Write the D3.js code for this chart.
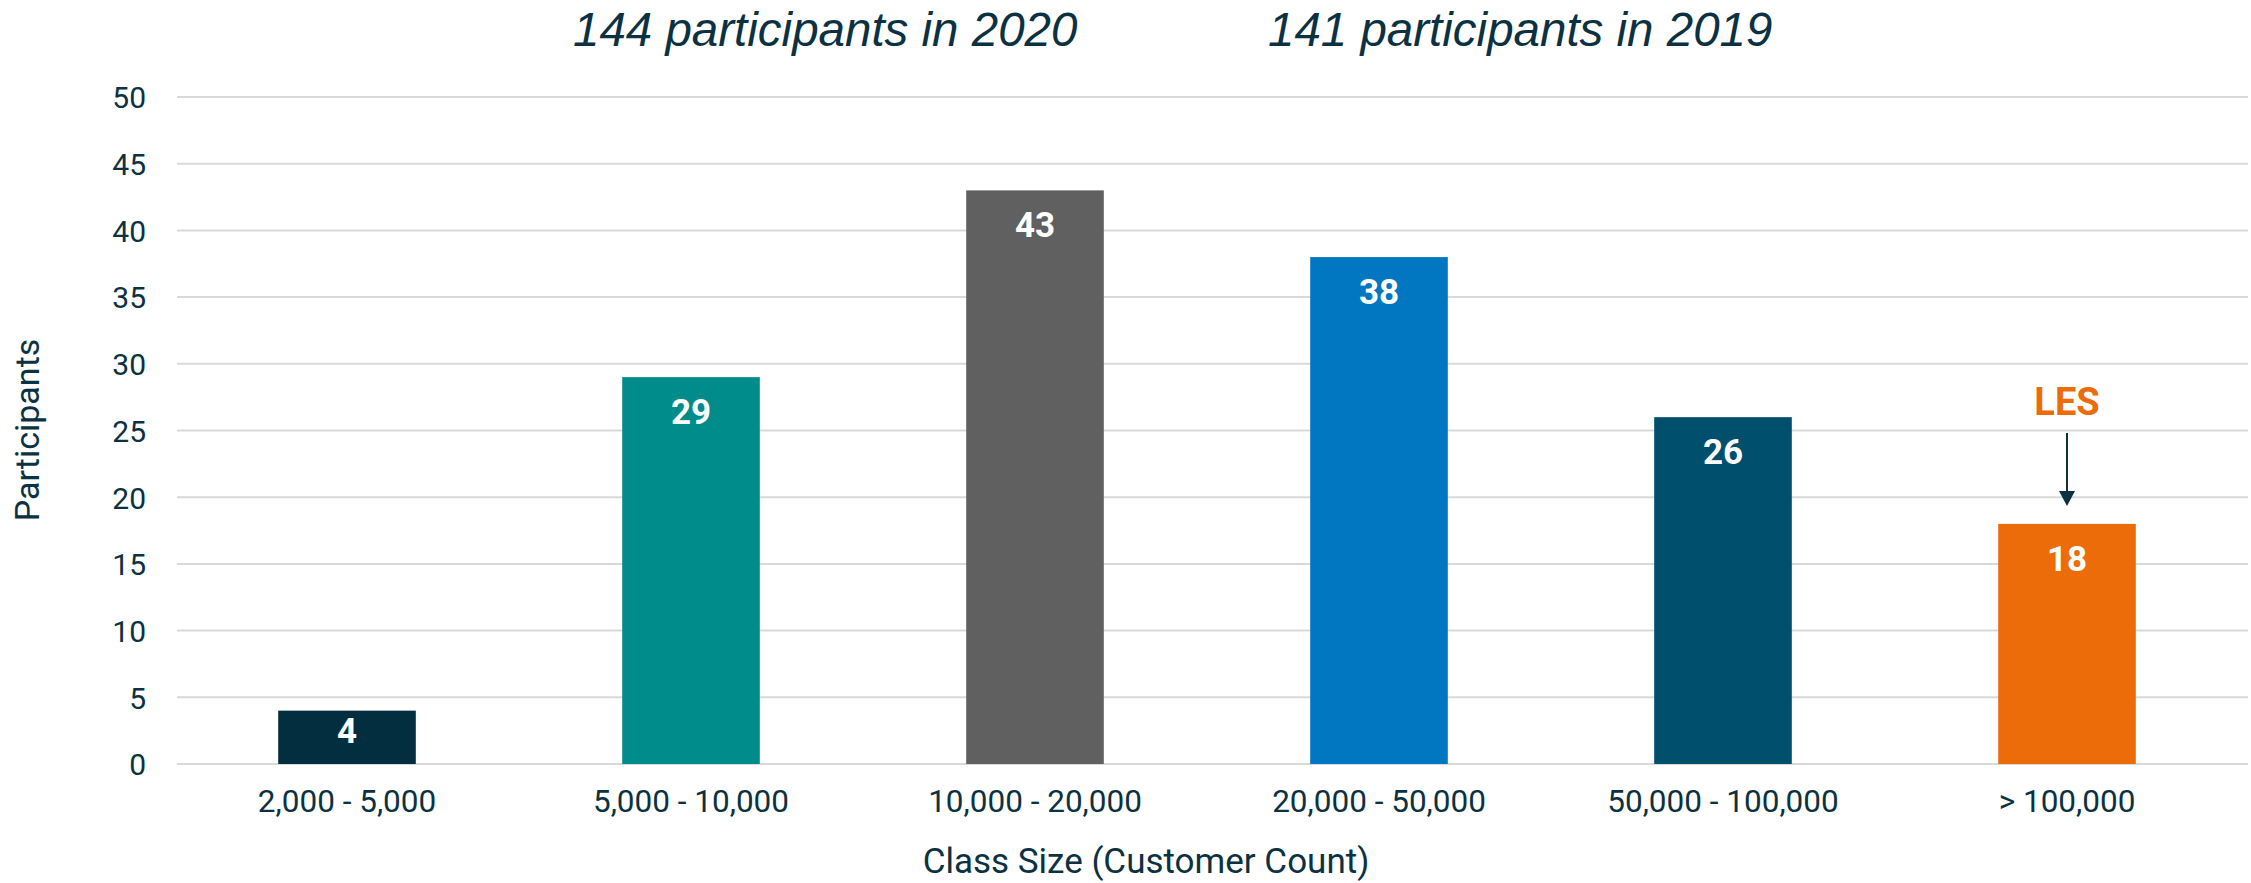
<!DOCTYPE html>
<html>
<head>
<meta charset="utf-8">
<script src="https://cdn.jsdelivr.net/npm/d3@7"></script>
<style>
  body { margin: 0; background: #fff; }
  svg text { font-family: Roboto, "Noto Sans", sans-serif; }
</style>
</head>
<body>
<div id="chartContainer"></div>
<script>
var width = 2251, height = 883;
var margin = { top: 97, right: 3, bottom: 119, left: 177 };

// data
var categories = ["2,000 - 5,000", "5,000 - 10,000", "10,000 - 20,000", "20,000 - 50,000", "50,000 - 100,000", "> 100,000"];
var participants = [4, 29, 43, 38, 26, 18];
var barColors = ["#022e3f", "#008c8a", "#606060", "#0077c0", "#004f6d", "#ec6c0a"];
var yTicks = [0, 5, 10, 15, 20, 25, 30, 35, 40, 45, 50];
var titles = ["144 participants in 2020", "141 participants in 2019"];
var highlight = "> 100,000";

var textColor = "#0b3142";
var gridColor = "#d9d9d9";

var plotW = width - margin.left - margin.right;
var plotH = height - margin.top - margin.bottom;

var data = categories.map(function (c, i) {
    return { cat: c, value: participants[i], color: barColors[i] };
});

const svg = d3.select("#chartContainer")
    .append("svg")
    .attr("width", width)
    .attr("height", height);

// bands sit a little left of the gridline span
const x = d3.scaleBand()
    .domain(categories)
    .range([-2, plotW - 9])
    .paddingInner(0.6)
    .paddingOuter(0.3);

const y = d3.scaleLinear()
    .domain([0, 50])
    .range([plotH, 0]);

const g = svg.append("g")
    .attr("transform", `translate(${margin.left}, ${margin.top})`);

// gridlines
g.append("g")
    .selectAll("line")
    .data(yTicks)
    .join("line")
    .attr("x1", 0)
    .attr("x2", plotW)
    .attr("y1", d => y(d))
    .attr("y2", d => y(d))
    .attr("stroke", gridColor)
    .attr("stroke-width", 2);

// y axis labels
let yAxis = g.append("g")
    .call(d3.axisLeft(y).tickValues(yTicks).tickSize(0).tickPadding(31));
yAxis.select(".domain").remove();
yAxis.selectAll("text")
    .attr("fill", textColor)
    .style("font-size", "30px")
    .attr("dy", "0.36em");

// x axis labels
let xAxis = g.append("g")
    .attr("transform", `translate(0, ${plotH})`)
    .call(d3.axisBottom(x).tickSize(0).tickPadding(26));
xAxis.select(".domain").remove();
xAxis.selectAll("text")
    .attr("fill", textColor)
    .style("font-size", "31.5px");

// bars
g.selectAll(".bar")
    .data(data)
    .join("rect")
    .attr("class", "bar")
    .attr("x", d => x(d.cat))
    .attr("width", x.bandwidth())
    .attr("y", d => y(d.value))
    .attr("height", d => plotH - y(d.value))
    .attr("fill", d => d.color);

// value labels (inside end, kept inside short bars)
g.selectAll(".val")
    .data(data)
    .join("text")
    .attr("class", "val")
    .attr("x", d => x(d.cat) + x.bandwidth() / 2)
    .attr("y", d => Math.min(y(d.value) + 47, plotH - 21))
    .attr("text-anchor", "middle")
    .attr("fill", "#fff")
    .style("font-size", "35px")
    .style("font-weight", "bold")
    .text(d => d.value);

// LES annotation
var hi = data.find(d => d.cat == highlight);
var hx = x(hi.cat) + x.bandwidth() / 2;
g.append("text")
    .attr("x", hx)
    .attr("y", y(hi.value) - 109)
    .attr("text-anchor", "middle")
    .attr("fill", "#ec6c0a")
    .style("font-size", "38px")
    .style("font-weight", "bold")
    .text("LES");

g.append("line")
    .attr("x1", hx)
    .attr("x2", hx)
    .attr("y1", y(hi.value) - 91)
    .attr("y2", y(hi.value) - 25)
    .attr("stroke", textColor)
    .attr("stroke-width", 2);
g.append("path")
    .attr("d", `M${hx - 8},${y(hi.value) - 33} L${hx + 8},${y(hi.value) - 33} L${hx},${y(hi.value) - 18} Z`)
    .attr("fill", textColor);

// titles
svg.selectAll(".title")
    .data(titles)
    .join("text")
    .attr("class", "title")
    .attr("x", (d, i) => i == 0 ? 573 : 1268)
    .attr("y", 46)
    .attr("fill", textColor)
    .style("font-family", "'Liberation Sans', Arial, sans-serif")
    .style("font-style", "italic")
    .style("font-size", "47.5px")
    .text(d => d);

// axis titles
svg.append("text")
    .attr("transform", "translate(39, 430) rotate(-90)")
    .attr("text-anchor", "middle")
    .attr("fill", textColor)
    .style("font-size", "34px")
    .text("Participants");

svg.append("text")
    .attr("x", 1146)
    .attr("y", 873)
    .attr("text-anchor", "middle")
    .attr("fill", textColor)
    .style("font-size", "35px")
    .text("Class Size (Customer Count)");
</script>
</body>
</html>
